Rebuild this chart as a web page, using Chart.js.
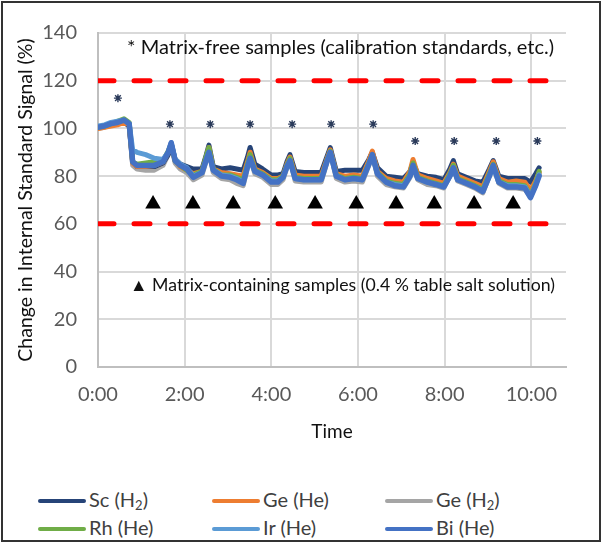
<!DOCTYPE html>
<html>
<head>
<meta charset="utf-8">
<script src="https://cdn.jsdelivr.net/npm/chart.js@4/dist/chart.umd.min.js"></script>
<style>
  body { margin: 0; background: #fff; font-family: Lato, sans-serif; }
  #wrap { position: relative; width: 604px; height: 544px; }
  #frame { position: absolute; left: 1px; top: 1px; width: 600px; height: 541px; box-sizing: border-box; border: 2px solid #333; pointer-events: none; }
  #chart { position: absolute; left: 0; top: 0; }
  .leg { position: absolute; font-size: 20px; color: #404040; line-height: 22px; white-space: nowrap; }
  .leg span.ln { display: inline-block; width: 48px; height: 4px; border-radius: 2px; vertical-align: middle; margin-right: 3px; position: relative; top: -1px; }
  .leg sub { font-size: 13px; vertical-align: -3px; line-height: 0; }
</style>
</head>
<body>
<div id="wrap">
  <canvas id="chart" width="604" height="470"></canvas>
  <div id="legend"></div>
  <div id="frame"></div>
</div>
<script>
// time in hours
const hours = [0, 0.15, 0.3, 0.45, 0.6, 0.72, 0.8, 0.9, 1.1, 1.3, 1.5, 1.62, 1.69, 1.78, 1.9, 2.05, 2.2, 2.4, 2.5, 2.56,
  2.66, 2.85, 3.05, 3.2, 3.35, 3.45, 3.51, 3.62, 3.8, 4.0, 4.15, 4.27, 4.36, 4.43, 4.55, 4.75, 4.95, 5.15, 5.28, 5.36,
  5.5, 5.7, 5.9, 6.1, 6.25, 6.33, 6.45, 6.65, 6.85, 7.05, 7.2, 7.27, 7.38, 7.6, 7.8, 7.98, 8.12, 8.2, 8.3, 8.5,
  8.7, 8.88, 9.03, 9.12, 9.25, 9.45, 9.65, 9.85, 9.98, 10.1, 10.18];

const scH2 = [100.5, 101, 101.5, 102, 102.5, 101, 86, 84, 84, 84, 85.5, 89, 93.5, 87, 85, 84, 83, 83, 89, 93,
  84, 83, 83.5, 83, 82.5, 88, 92, 85, 83, 80.5, 80.5, 81, 86, 89, 82, 81.5, 81.5, 81.5, 88, 92,
  82, 82.5, 82.5, 82.5, 87, 90, 83.5, 80, 79.5, 79, 82, 85.5, 81, 80, 79.5, 78.5, 83, 86.5, 81, 79.5,
  78, 77.5, 83, 86.5, 80, 79, 79, 79, 77.5, 81, 83.5];
const geHe = [100, 100.5, 101, 101.5, 102.5, 101.5, 85.5, 84, 84, 84.5, 86, 90, 93, 86.5, 84, 82.5, 81, 82, 88, 92,
  83, 81.5, 81, 80.5, 80, 86, 90, 83, 81.5, 79, 79, 80, 85, 88, 80.5, 80, 80, 80, 87, 91,
  81, 80, 80.5, 80, 86.5, 90.5, 82, 79, 78, 77.5, 82, 87, 80.5, 79, 78, 77, 81.5, 85, 80, 78.5,
  77, 75.5, 82, 86, 79, 77.5, 78, 77.5, 74, 78, 81.5];
const geH2 = [100, 100.5, 101.5, 102, 103, 101.5, 84.5, 83, 82.5, 82.5, 84.5, 89, 93, 85.5, 83, 81.5, 78.5, 80.5, 86.5, 90,
  81.5, 79, 78.5, 77, 76, 83.5, 87.5, 81, 79.5, 76.5, 76.5, 78.5, 83.5, 87, 78, 77.5, 77.5, 77.5, 85.5, 90,
  79, 77.5, 78, 77.5, 84.5, 89, 80, 76.5, 75.5, 75, 79.5, 84.5, 78.5, 76.5, 76, 75, 80, 84, 78, 76.5,
  75, 73, 80, 85, 77, 75, 75, 74.5, 71.5, 76, 81];
const rhHe = [100.5, 101, 102, 103, 104, 102.5, 86, 85, 85.5, 86, 86.5, 90.5, 93.5, 86.5, 84.5, 82.5, 80.5, 82, 88.5, 92,
  83, 80.5, 80.5, 79.5, 78.5, 85, 89, 82.5, 81, 78.5, 78.5, 80, 84.5, 87.5, 79.5, 79, 79, 79, 86.5, 90.5,
  80.5, 79, 79.5, 79, 85.5, 89, 81.5, 78, 77, 76.5, 81, 85.5, 79.5, 78, 77, 76, 81, 84.5, 79, 77.5,
  76, 74.5, 81, 85, 78, 76.5, 76.5, 76, 72, 77, 82];
const irHe = [101, 101.5, 102.5, 103, 103.5, 102, 91, 90, 89, 87.5, 87, 90, 94, 87, 85, 83.5, 80, 81.5, 87, 90,
  82.5, 80.5, 80, 79, 77.5, 84, 87.5, 82, 80.5, 78, 78, 79.5, 84, 86.5, 79, 78.5, 78.5, 78.5, 86, 90,
  80, 78.5, 79, 78.5, 85, 88.5, 81, 77.5, 76.5, 76, 80, 84, 79, 77.5, 76.5, 75.5, 80, 83.5, 78.5, 77,
  75.5, 74, 80, 84, 77.5, 76, 76, 75.5, 71.5, 76.5, 80.5];
const biHe = [100.5, 101, 102, 102.5, 103.5, 102, 86, 84.5, 84.5, 84.5, 86, 90, 94, 86.5, 84.5, 83, 79.5, 81.5, 87, 90,
  82.5, 80, 79.5, 78.5, 77, 84, 87.5, 82, 80.5, 77.5, 77.5, 79.5, 84, 86.5, 79, 78.5, 78.5, 78.5, 86, 90,
  80, 78.5, 79, 78.5, 85, 89, 81, 77.5, 76, 75.5, 80, 84.5, 79, 77.5, 76.5, 75.5, 80, 83.5, 78.5, 77,
  75.5, 73.5, 80, 84.5, 77.5, 75.5, 75.5, 75, 71, 76, 80];

// markers: matrix-free samples (*) and matrix-containing samples (triangles)
const starHours = [0.46, 1.66, 2.59, 3.51, 4.48, 5.38, 6.35, 7.32, 8.22, 9.19, 10.14];
const starValues = [112.7, 101.8, 101.8, 101.8, 101.8, 101.8, 101.8, 94.7, 94.7, 94.7, 94.7];
const triHours = [1.27, 2.19, 3.12, 4.09, 5.01, 5.96, 6.88, 7.76, 8.68, 9.58];
const triValue = 68.3;

const limits = [120, 60];
const xMax = 10.8;
const yTicks = [0, 20, 40, 60, 80, 100, 120, 140];
const xTicks = [0, 2, 4, 6, 8, 10];

const seriesNames = ['Sc (H<sub>2</sub>)', 'Ge (He)', 'Ge (H<sub>2</sub>)', 'Rh (He)', 'Ir (He)', 'Bi (He)'];
const seriesData = [scH2, geHe, geH2, rhHe, irHe, biHe];
const seriesColors = ['#264478', '#ED7D31', '#A5A5A5', '#70AD47', '#5B9BD5', '#4472C4'];
const seriesOrder = [4, 3, 5, 2, 1, 0];

const FONT = 'Lato';

const datasets = seriesData.map((arr, i) => ({
  label: seriesNames[i].replace(/<\/?sub>/g, ''),
  data: hours.map((h, k) => ({ x: h, y: arr[k] })),
  borderColor: seriesColors[i],
  borderWidth: i === 5 ? 5.5 : 5,
  pointRadius: 0,
  borderJoinStyle: 'round',
  borderCapStyle: 'round',
  order: seriesOrder[i] + 2,
  tension: 0
}));

limits.forEach(v => {
  datasets.push({
    label: 'limit ' + v,
    data: [{ x: 0, y: v }, { x: xMax, y: v }],
    borderColor: '#FF0000',
    borderWidth: 5,
    borderDash: [16, 20],
    borderCapStyle: 'round',
    pointRadius: 0,
    order: 1
  });
});

datasets.push({
  label: 'matrix-free',
  type: 'scatter',
  data: starHours.map((h, i) => ({ x: h, y: starValues[i] })),
  pointStyle: 'star',
  pointRadius: 4,
  borderColor: '#2a3a5a',
  borderWidth: 1.4,
  showLine: false,
  order: 0
});
datasets.push({
  label: 'matrix-containing',
  type: 'scatter',
  data: triHours.map(h => ({ x: h, y: triValue })),
  pointStyle: 'triangle',
  pointRadius: 9,
  backgroundColor: '#000',
  borderColor: '#000',
  borderWidth: 0,
  showLine: false,
  order: 0
});

// text notes inside the plot
const notes = [
  { text: '* Matrix-free samples (calibration standards, etc.)', x: 0.67, y: 133.7, size: 20 },
  { text: '\u25B2 Matrix-containing samples (0.4 % table salt solution)', x: 0.74, y: 34.4, size: 17.7 }
];

const notesPlugin = {
  id: 'notes',
  afterDatasetsDraw(chart) {
    const { ctx, scales } = chart;
    ctx.save();
    ctx.fillStyle = '#111';
    ctx.textBaseline = 'middle';
    notes.forEach(n => {
      ctx.font = n.size + 'px ' + FONT;
      ctx.fillText(n.text, scales.x.getPixelForValue(n.x), scales.y.getPixelForValue(n.y));
    });
    ctx.restore();
  }
};

new Chart(document.getElementById('chart'), {
  type: 'line',
  data: { datasets: datasets },
  plugins: [notesPlugin],
  options: {
    responsive: false,
    animation: false,
    events: [],
    layout: { padding: { top: 33, right: 38, left: 8, bottom: 0 } },
    plugins: { legend: { display: false }, tooltip: { enabled: false } },
    scales: {
      x: {
        type: 'linear',
        min: 0,
        max: xMax,
        afterFit: s => { s.height = 103; },
        afterBuildTicks: s => { s.ticks = xTicks.map(v => ({ value: v })); },
        ticks: {
          padding: 16,
          color: '#595959',
          font: { family: FONT, size: 20 },
          callback: v => v + ':00'
        },
        grid: { color: '#D9D9D9', lineWidth: 2, drawTicks: false },
        border: { color: '#BFBFBF', width: 2 },
        title: {
          display: true,
          text: 'Time',
          color: '#111',
          font: { family: FONT, size: 19 },
          padding: { top: 0, bottom: 27 }
        }
      },
      y: {
        min: 0,
        max: 140,
        afterFit: s => { s.width = 90; },
        afterBuildTicks: s => { s.ticks = yTicks.map(v => ({ value: v })); },
        ticks: {
          padding: 21,
          color: '#595959',
          font: { family: FONT, size: 20 }
        },
        grid: { color: '#D9D9D9', lineWidth: 2, drawTicks: false },
        border: { color: '#BFBFBF', width: 2 },
        title: {
          display: true,
          text: 'Change in Internal Standard Signal (%)',
          color: '#111',
          font: { family: FONT, size: 19.5 },
          padding: { top: 6, bottom: 0 }
        }
      }
    }
  }
});

// legend, 3 columns x 2 rows
const legCols = [38, 212, 385];
const legRows = [499, 527];
const legend = document.getElementById('legend');
seriesNames.forEach((name, i) => {
  const el = document.createElement('div');
  el.className = 'leg';
  el.style.left = legCols[i % 3] + 'px';
  el.style.top = (legRows[Math.floor(i / 3)] - 11) + 'px';
  el.innerHTML = '<span class="ln" style="background:' + seriesColors[i] + '"></span>' + name;
  legend.appendChild(el);
});
</script>
</body>
</html>
